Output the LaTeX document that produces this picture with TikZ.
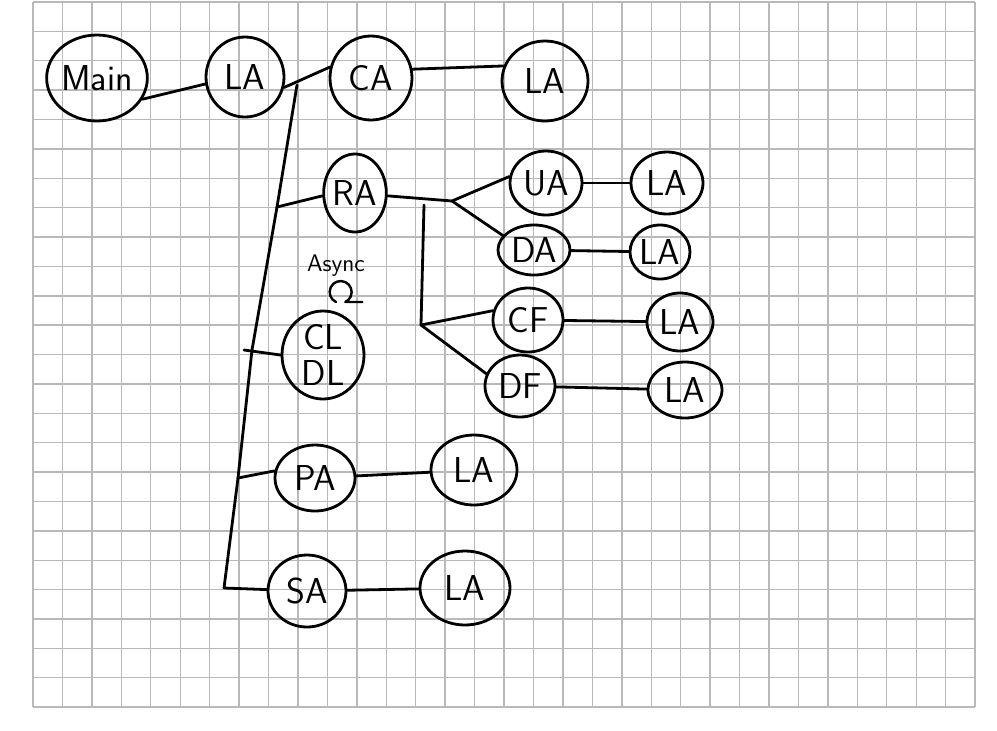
\documentclass[tikz,border=0pt]{standalone}
\usetikzlibrary{shapes.geometric,positioning}
\tikzset{
  loc/.style    = { draw, ellipse, line width=1.4pt, inner sep=0pt,
    font=\sffamily\fontsize{18}{20}\selectfont, minimum width=#1 },
  ln/.style     = { line width=1.4pt, line cap=round, line join=round },
  gridln/.style = { gray!55, line width=0.7pt },
  note/.style   = { font=\sffamily\fontsize{12}{14}\selectfont, inner sep=1pt }
}
\begin{document}
\begin{tikzpicture}[x=0.5pt,y=-0.5pt]
      \useasboundingbox (0,0) rectangle (997,730);
      % grid paper
      \foreach \i in {0,...,32}
        \draw[gridln] ({33+\i*29.44},2) -- ({33+\i*29.44},707);
      \foreach \j in {0,...,24}
        \draw[gridln] (33,{2+\j*29.38}) -- (975,{2+\j*29.38});
      % top row
      \node[loc=40pt, minimum height=43pt] (main) at (97,78) {Main};
      \node[loc=39pt, minimum height=40pt] (la1) at (245,77) {LA};
      \node[loc=41pt, minimum height=42pt] (ca) at (371,78) {CA};
      \node[loc=43pt, minimum height=40pt] (la2) at (545,81) {LA};
      % left column
      \node[loc=30pt, minimum height=39pt] (ra) at (355,193) {RA};
      \node[note] (async) at (336,266) {Async};
      \node[loc=41pt, minimum height=44pt, align=center] (cl) at (323,355) {CL\\[-2pt]DL};
      \node[loc=40pt, minimum height=33pt] (pa) at (315,478) {PA};
      \node[loc=43pt, minimum height=35pt] (la7) at (474,470) {LA};
      \node[loc=39pt, minimum height=36pt] (sa) at (307,591) {SA};
      \node[loc=45pt, minimum height=37pt] (la8) at (465,588) {LA};
      % right column
      \node[loc=36pt, minimum height=32pt] (ua) at (546,183) {UA};
      \node[loc=36pt, minimum height=31pt] (la3) at (667,183) {LA};
      \node[loc=36pt, minimum height=25pt] (da) at (534,250) {DA};
      \node[loc=30pt, minimum height=27pt] (la4) at (660,252) {LA};
      \node[loc=35pt, minimum height=32pt] (cf) at (528,320) {CF};
      \node[loc=33pt, minimum height=29pt] (la5) at (680,322) {LA};
      \node[loc=35pt, minimum height=31pt] (df) at (520,386) {DF};
      \node[loc=37pt, minimum height=28pt] (la6) at (685,390) {LA};
      % junctions
      \coordinate (j0) at (297,85);
      \coordinate (j1) at (277,207);
      \coordinate (j2) at (252,350);
      \coordinate (c2) at (244,350);
      \coordinate (j3) at (238,478);
      \coordinate (j4) at (224,588);
      \coordinate (f0) at (452,201);
      \coordinate (s0) at (424,205);
      \coordinate (s1) at (421,325);
      \coordinate (lp) at (336,302);
      \path[ln] (main.-25) edge (la1.190)
                (la1.-15) edge (ca.165)
                (ca.12) edge (la2.160)
                (j0) edge (j1)
                (j1) edge (j2)
                (j2) edge (j3)
                (j3) edge (j4)
                (j1) edge (ra.185)
                (c2) edge (cl.west)
                (j3) edge (pa.170)
                (j4) edge (sa.178)
                (ra.-5) edge (f0)
                (f0) edge (ua.170)
                (f0) edge (da.155)
                (s0) edge (s1)
                (s1) edge (cf.165)
                (s1) edge (df.160)
                (ua) edge (la3)
                (da) edge (la4)
                (cf) edge (la5)
                (df) edge (la6)
                (pa) edge (la7)
                (sa) edge (la8);
      % loop mark under Async
      \draw[ln, line width=1.2pt] (lp) arc[start angle=115, end angle=425, radius=11] -- ++(17,0);
    \end{tikzpicture}
\end{document}
